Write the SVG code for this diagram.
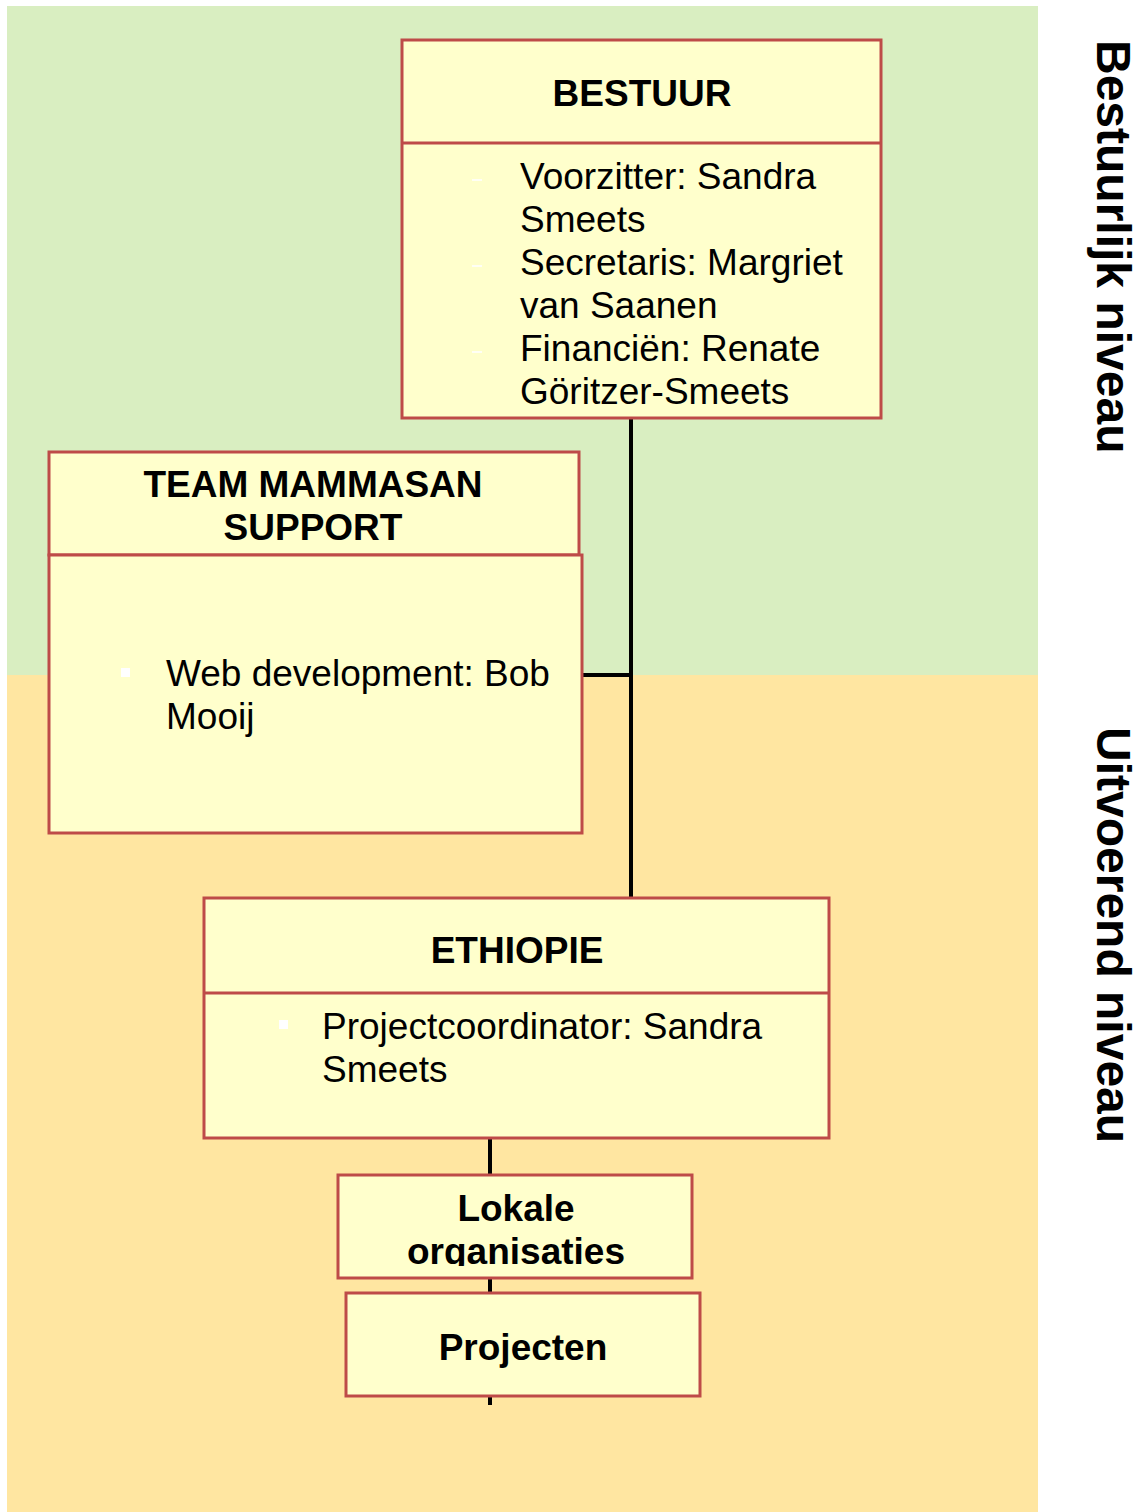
<svg xmlns="http://www.w3.org/2000/svg" width="1138" height="1512" viewBox="0 0 1138 1512">
<defs>
<style>
.box{fill:#FFFFCC;stroke:#BE4B48;stroke-width:3}
.div{stroke:#BE4B48;stroke-width:3}
.t{font-family:"Liberation Sans",Arial,sans-serif;font-weight:bold;font-size:37px;fill:#000;text-anchor:middle}
.b{font-family:"Liberation Sans",Arial,sans-serif;font-size:37px;fill:#000}
.side{font-family:"Liberation Sans",Arial,sans-serif;font-weight:bold;font-size:48px;fill:#000}
.con{stroke:#000;stroke-width:4;fill:none}
.bul{fill:#FFFFFF}
</style>
<clipPath id="clipLok"><rect x="338" y="1175" width="354" height="91"/></clipPath>
</defs>
<rect x="0" y="0" width="1138" height="1512" fill="#FFFFFF"/>
<rect x="7" y="6" width="1031" height="669" fill="#D9EEC1"/>
<rect x="7" y="675" width="1031" height="837" fill="#FFE6A1"/>
<text class="side" transform="translate(1097,40) rotate(90)">Bestuurlijk niveau</text>
<text class="side" transform="translate(1097,727) rotate(90)">Uitvoerend niveau</text>
<g id="connectors">
<line class="con" x1="631" y1="418" x2="631" y2="898"/>
<line class="con" x1="582" y1="675" x2="631" y2="675"/>
<line class="con" x1="490" y1="1138" x2="490" y2="1175"/>
<line class="con" x1="490" y1="1278" x2="490" y2="1293"/>
<line class="con" x1="490" y1="1396" x2="490" y2="1405"/>
</g>
<g id="bestuur">
<rect class="box" x="402" y="40" width="479" height="378"/>
<line class="div" x1="402" y1="143" x2="881" y2="143"/>
<text class="t" x="642" y="106">BESTUUR</text>
<rect class="bul" x="472" y="179" width="10" height="2" opacity="0.8"/>
<rect class="bul" x="472" y="265" width="10" height="2" opacity="0.8"/>
<rect class="bul" x="472" y="351" width="10" height="2" opacity="0.8"/>
<text class="b" x="520" y="189">Voorzitter: Sandra</text>
<text class="b" x="520" y="232">Smeets</text>
<text class="b" x="520" y="275">Secretaris: Margriet</text>
<text class="b" x="520" y="318">van Saanen</text>
<text class="b" x="520" y="361">Financiën: Renate</text>
<text class="b" x="520" y="404">Göritzer-Smeets</text>
</g>
<g id="team">
<rect class="box" x="49" y="452" width="530" height="103"/>
<rect class="box" x="49" y="555" width="533" height="278"/>
<text class="t" x="313" y="497">TEAM MAMMASAN</text>
<text class="t" x="313" y="540">SUPPORT</text>
<rect class="bul" x="121" y="668" width="9" height="9"/>
<text class="b" x="166" y="686">Web development: Bob</text>
<text class="b" x="166" y="729">Mooij</text>
</g>
<g id="ethiopie">
<rect class="box" x="204" y="898" width="625" height="240"/>
<line class="div" x1="204" y1="993" x2="829" y2="993"/>
<text class="t" x="517" y="963">ETHIOPIE</text>
<rect class="bul" x="279" y="1020" width="9" height="9"/>
<text class="b" x="322" y="1039">Projectcoordinator: Sandra</text>
<text class="b" x="322" y="1082">Smeets</text>
</g>
<g id="lokale">
<rect class="box" x="338" y="1175" width="354" height="103"/>
<g clip-path="url(#clipLok)">
<text class="t" x="516" y="1221">Lokale</text>
<text class="t" x="516" y="1264">organisaties</text>
</g>
</g>
<g id="projecten">
<rect class="box" x="346" y="1293" width="354" height="103"/>
<text class="t" x="523" y="1360">Projecten</text>
</g>
</svg>
